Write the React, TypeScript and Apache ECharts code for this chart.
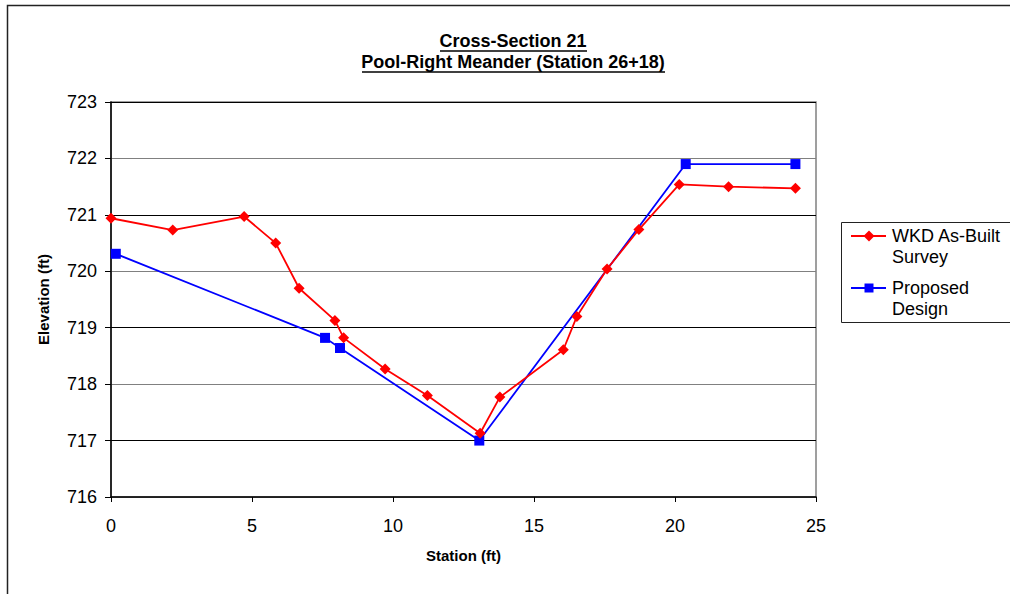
import React, { useEffect, useRef } from "react";
import * as echarts from "echarts";

const surveyX = [0, 2.19, 4.72, 5.84, 6.67, 7.94, 8.25, 9.72, 11.22, 13.09, 13.79, 16.04, 16.52, 17.59, 18.72, 20.15, 21.9, 24.27];
const surveyY = [720.94, 720.73, 720.97, 720.5, 719.7, 719.13, 718.82, 718.27, 717.8, 717.13, 717.77, 718.61, 719.2, 720.04, 720.74, 721.54, 721.5, 721.47];
const designX = [0.17, 7.59, 8.12, 13.06, 20.38, 24.27];
const designY = [720.31, 718.82, 718.64, 717.0, 721.9, 721.9];

const titleLines = ["Cross-Section 21", "Pool-Right Meander (Station 26+18)"];
const seriesNames = ["WKD As-Built Survey", "Proposed Design"];
const legendLines = [["WKD As-Built", "Survey"], ["Proposed", "Design"]];
const xName = "Station (ft)";
const yName = "Elevation (ft)";

const FONT = "'Liberation Sans', Arial, sans-serif";

export default function App() {
  const ref = useRef<HTMLDivElement>(null);
  useEffect(() => {
    document.body.style.margin = "0";
    const chart = echarts.init(ref.current!, null, { renderer: "svg" });
    const survey = surveyX.map((x, i) => [x, surveyY[i]]);
    const design = designX.map((x, i) => [x, designY[i]]);
    chart.setOption({
      animation: false,
      backgroundColor: "#fff",
      textStyle: { fontFamily: FONT },
      grid: {
        left: 111,
        right: 194,
        top: 102,
        bottom: 97,
        show: true,
        borderColor: "#808080",
        borderWidth: 1.5,
        backgroundColor: "transparent",
      },
      xAxis: {
        type: "value",
        min: 0,
        max: 25,
        interval: 5,
        name: xName,
        nameLocation: "middle",
        nameGap: 51,
        nameTextStyle: { fontSize: 15, fontWeight: "bold", color: "#000", fontFamily: FONT },
        axisLine: { show: true, onZero: false, lineStyle: { color: "#000", width: 1.5 } },
        axisTick: { show: true, length: 5, inside: false, lineStyle: { color: "#000" } },
        axisLabel: { fontSize: 18, color: "#000", margin: 20, fontFamily: FONT },
        splitLine: { show: false },
      },
      yAxis: {
        type: "value",
        min: 716,
        max: 723,
        interval: 1,
        name: yName,
        nameLocation: "middle",
        nameGap: 60,
        nameRotate: 90,
        nameTextStyle: { fontSize: 15, fontWeight: "bold", color: "#000", fontFamily: FONT },
        axisLine: { show: true, lineStyle: { color: "#000", width: 1.5 } },
        axisTick: { show: true, length: 6, lineStyle: { color: "#000" } },
        axisLabel: { fontSize: 18, color: "#000", margin: 14, fontFamily: FONT },
        splitLine: { show: true, lineStyle: { color: ["#808080", "#000"], width: 1 } },
      },
      series: [
        {
          name: seriesNames[0],
          type: "line",
          data: survey,
          symbol: "diamond",
          symbolSize: 11,
          itemStyle: { color: "#ff0000" },
          lineStyle: { color: "#ff0000", width: 1.8 },
          z: 3,
        },
        {
          name: seriesNames[1],
          type: "line",
          data: design,
          symbol: "rect",
          symbolSize: 10,
          itemStyle: { color: "#0000ff" },
          lineStyle: { color: "#0000ff", width: 1.8 },
          z: 2,
        },
      ],
      graphic: [
        {
          type: "rect",
          shape: { x: 7.5, y: 5.5, width: 1100, height: 700 },
          style: { fill: "none", stroke: "#222", lineWidth: 1.5 },
          silent: true,
          z: 0,
        },
        {
          type: "text",
          x: 513,
          y: 41,
          style: { text: titleLines[0], fontSize: 18, fontWeight: "bold", fontFamily: FONT, fill: "#000", align: "center", verticalAlign: "middle" },
        },
        { type: "line", shape: { x1: 440, y1: 51, x2: 587, y2: 51 }, style: { stroke: "#000", lineWidth: 1.5 } },
        {
          type: "text",
          x: 513,
          y: 62,
          style: { text: titleLines[1], fontSize: 18, fontWeight: "bold", fontFamily: FONT, fill: "#000", align: "center", verticalAlign: "middle" },
        },
        { type: "line", shape: { x1: 362, y1: 72, x2: 665, y2: 72 }, style: { stroke: "#000", lineWidth: 1.5 } },
        {
          type: "rect",
          shape: { x: 841.5, y: 222.5, width: 300, height: 100 },
          style: { fill: "#fff", stroke: "#222", lineWidth: 1 },
        },
        { type: "line", shape: { x1: 851, y1: 236, x2: 886, y2: 236 }, style: { stroke: "#ff0000", lineWidth: 1.8 } },
        { type: "polygon", shape: { points: [[869, 230.5], [874.5, 236], [869, 241.5], [863.5, 236]] }, style: { fill: "#ff0000" } },
        { type: "text", x: 892, y: 236, style: { text: legendLines[0][0], fontSize: 18, fontFamily: FONT, fill: "#000", verticalAlign: "middle" } },
        { type: "text", x: 892, y: 257, style: { text: legendLines[0][1], fontSize: 18, fontFamily: FONT, fill: "#000", verticalAlign: "middle" } },
        { type: "line", shape: { x1: 851, y1: 288, x2: 886, y2: 288 }, style: { stroke: "#0000ff", lineWidth: 1.8 } },
        { type: "rect", shape: { x: 864.5, y: 283.5, width: 9, height: 9 }, style: { fill: "#0000ff" } },
        { type: "text", x: 892, y: 288, style: { text: legendLines[1][0], fontSize: 18, fontFamily: FONT, fill: "#000", verticalAlign: "middle" } },
        { type: "text", x: 892, y: 309, style: { text: legendLines[1][1], fontSize: 18, fontFamily: FONT, fill: "#000", verticalAlign: "middle" } },
      ],
    });
    return () => chart.dispose();
  }, []);
  return <div ref={ref} style={{ position: "fixed", left: 0, top: 0, width: 1010, height: 594 }} />;
}
